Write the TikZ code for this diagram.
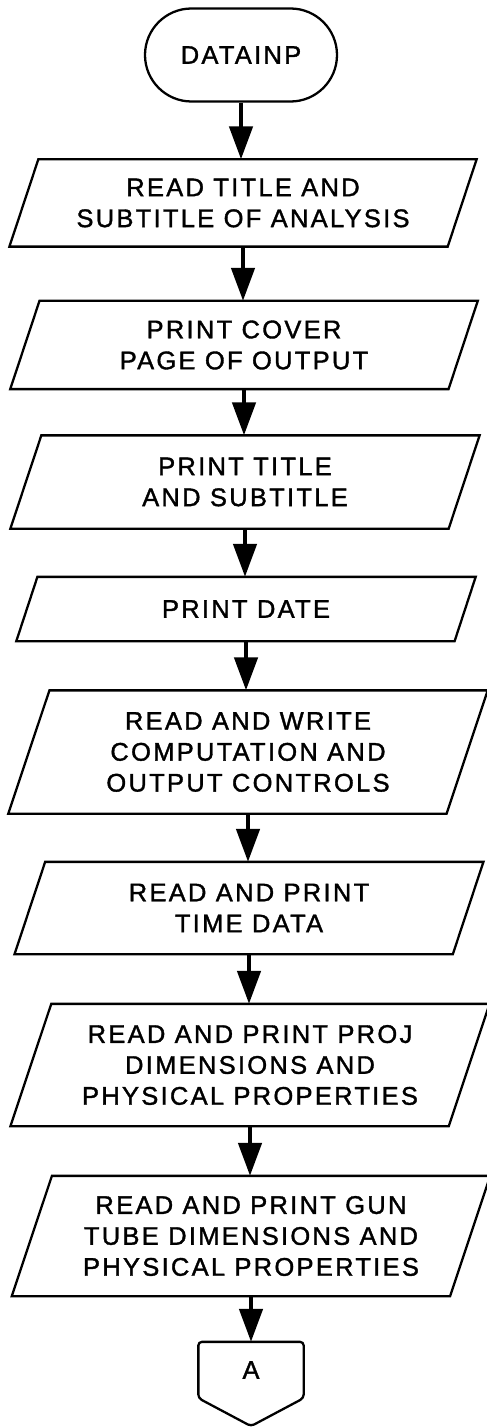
\documentclass[tikz,border=0pt]{standalone}
\usepackage{fontspec}
\setmainfont{Liberation Sans}[LetterSpace=9,FakeBold=1.4]
\usepackage{tikz}
\usetikzlibrary{arrows.meta}

\begin{document}
\begin{tikzpicture}[every node/.style={align=center,font=\fontsize{14.5pt}{17.6pt}\selectfont,line width=1.3pt},
    io/.style={minimum width=8.72cm,minimum height=#1,inner sep=0pt,
        append after command={\pgfextra{\draw[line width=1.3pt]
            ([xshift={0.17*#1}]\tikzlastnode.north west) -- ([xshift={0.17*#1}]\tikzlastnode.north east)
            -- ([xshift={-0.17*#1}]\tikzlastnode.south east) -- ([xshift={-0.17*#1}]\tikzlastnode.south west) -- cycle;}}},
    flow/.style={-{Triangle[width=0.46cm,length=0.66cm]},line width=2.6pt}]
        \useasboundingbox (0,0) rectangle (9.74,-28.56);

        \node[draw,rounded corners=0.93cm,minimum width=3.84cm,minimum height=1.86cm] (datainp) at (4.82, -1.1) {DATAINP};

        \node[io=1.7cm] (readtitle) at (4.86, -4.06) {READ TITLE AND\\SUBTITLE OF ANALYSIS};
        \node[io=1.72cm] (cover) at (4.88, -6.9) {PRINT COVER\\PAGE OF OUTPUT};
        \node[io=1.82cm] (printtitle) at (4.9, -9.64) {PRINT TITLE\\AND SUBTITLE};
        \node[io=1.24cm] (date) at (4.92, -12.18) {PRINT DATE};
        \node[io=2.42cm] (controls) at (4.96, -15.04) {READ AND WRITE\\COMPUTATION AND\\OUTPUT CONTROLS};
        \node[io=1.8cm] (time) at (4.98, -18.16) {READ AND PRINT\\TIME DATA};
        \node[io=2.4cm] (proj) at (5.0, -21.3) {READ AND PRINT PROJ\\DIMENSIONS AND\\PHYSICAL PROPERTIES};
        \node[io=2.36cm] (gun) at (5.02, -24.72) {READ AND PRINT GUN\\TUBE DIMENSIONS AND\\PHYSICAL PROPERTIES};

        % off-page connector
        \node[minimum width=2.06cm,minimum height=1.08cm,inner sep=0pt] (conA) at (5.02, -27.4) {A};
        \draw[line width=1.3pt,rounded corners=2pt] (conA.south west) -- (conA.north west) -- (conA.north east) -- (conA.south east) -- ([yshift=-0.56cm]conA.south) -- cycle;

        \draw[flow] (datainp) -- (datainp |- readtitle.north);
        \draw[flow] (readtitle) -- (readtitle |- cover.north);
        \draw[flow] (cover) -- (cover |- printtitle.north);
        \draw[flow] (printtitle) -- (printtitle |- date.north);
        \draw[flow] (date) -- (date |- controls.north);
        \draw[flow] (controls) -- (controls |- time.north);
        \draw[flow] (time) -- (time |- proj.north);
        \draw[flow] (proj) -- (proj |- gun.north);
        \draw[flow] (gun) -- (gun |- conA.north);
    \end{tikzpicture}
\end{document}
